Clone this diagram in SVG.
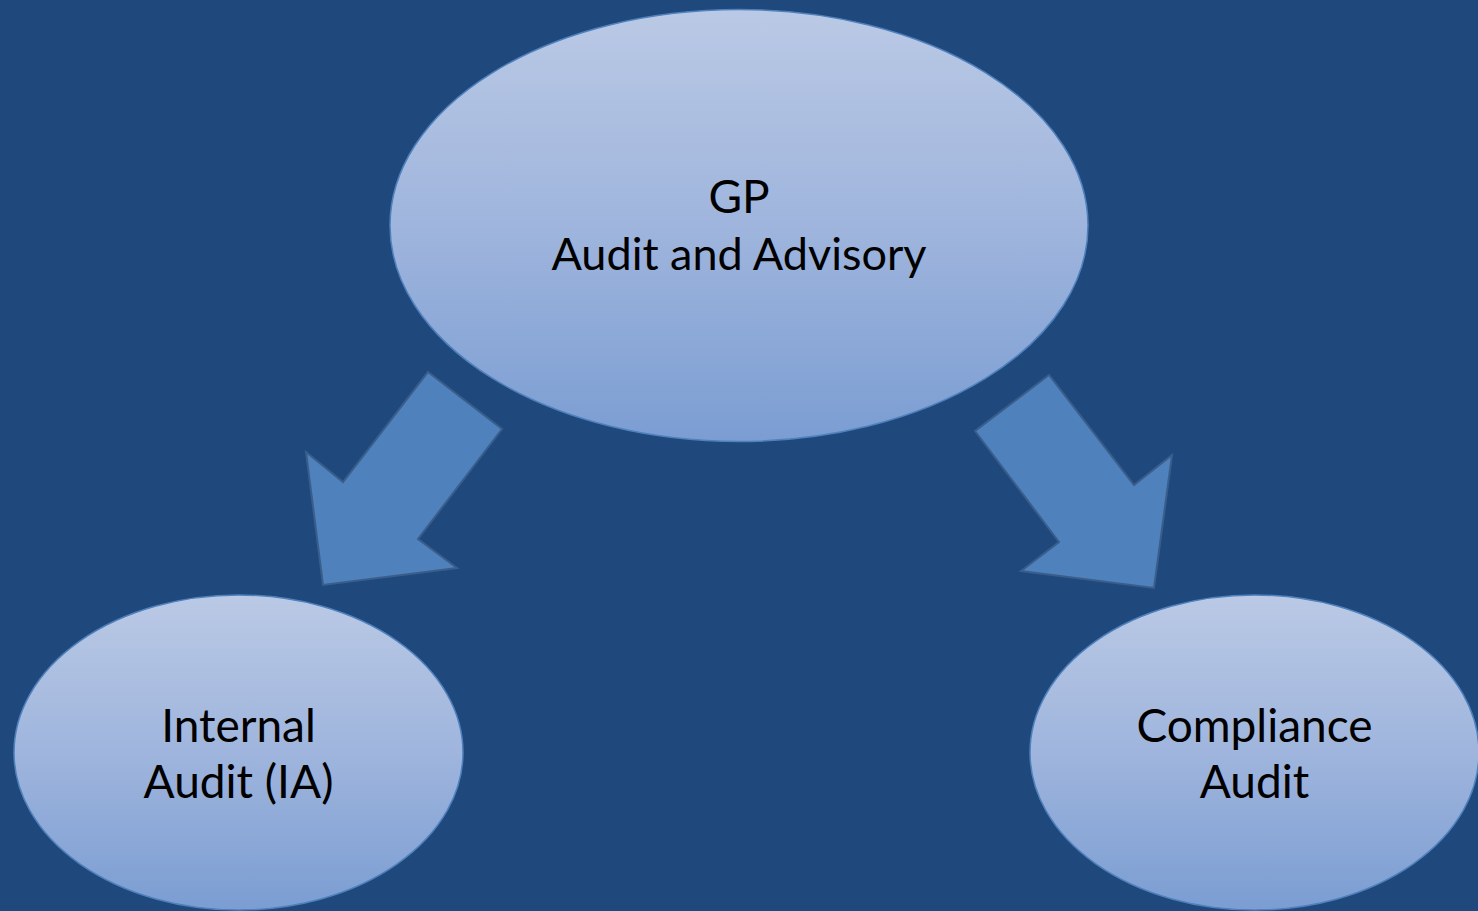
<svg xmlns="http://www.w3.org/2000/svg" width="1478" height="911" viewBox="0 0 1478 911">
  <defs>
    <linearGradient id="bubble" x1="0" y1="0" x2="0" y2="1">
      <stop offset="0" stop-color="#BAC9E5"/>
      <stop offset="0.5" stop-color="#9FB5DD"/>
      <stop offset="1" stop-color="#7B9DD2"/>
    </linearGradient>
    <style>
      .bubble { fill: url(#bubble); stroke: #4F81BD; stroke-width: 1.5; }
      .arrow { fill: #4F81BD; stroke: #3A5E8B; stroke-width: 2; stroke-linejoin: miter; }
      .label { font-family: Lato, "Open Sans", "Liberation Sans", sans-serif; font-size: 46px; fill: #000000; text-anchor: middle; }
      .wide { font-size: 45px; }
    </style>
  </defs>

  <!-- page background -->
  <rect x="0" y="0" width="1478" height="911" fill="#1F497D"/>

  <!-- block arrows from the top bubble to the two lower bubbles -->
  <g id="connectors">
    <polygon class="arrow" points="428,372 502,429 418,539 457,568 323,585 306,452 343,482"/>
    <polygon class="arrow" points="1049,375 975,431 1059,542 1021,571 1154,588 1172,455 1134,485"/>
  </g>

  <g id="node-gp">
    <ellipse class="bubble" cx="739" cy="225.5" rx="349" ry="216"/>
    <text class="label" x="739" y="213">GP</text>
    <text class="label wide" x="739" y="270">Audit and Advisory</text>
  </g>

  <g id="node-internal-audit">
    <ellipse class="bubble" cx="238.5" cy="752.5" rx="224.5" ry="157.5"/>
    <text class="label" x="238.5" y="742">Internal</text>
    <text class="label" x="238.5" y="798">Audit (IA)</text>
  </g>

  <g id="node-compliance-audit">
    <ellipse class="bubble" cx="1254.5" cy="752.5" rx="224.5" ry="157.5"/>
    <text class="label" x="1254.5" y="742">Compliance</text>
    <text class="label" x="1254.5" y="798">Audit</text>
  </g>
</svg>
